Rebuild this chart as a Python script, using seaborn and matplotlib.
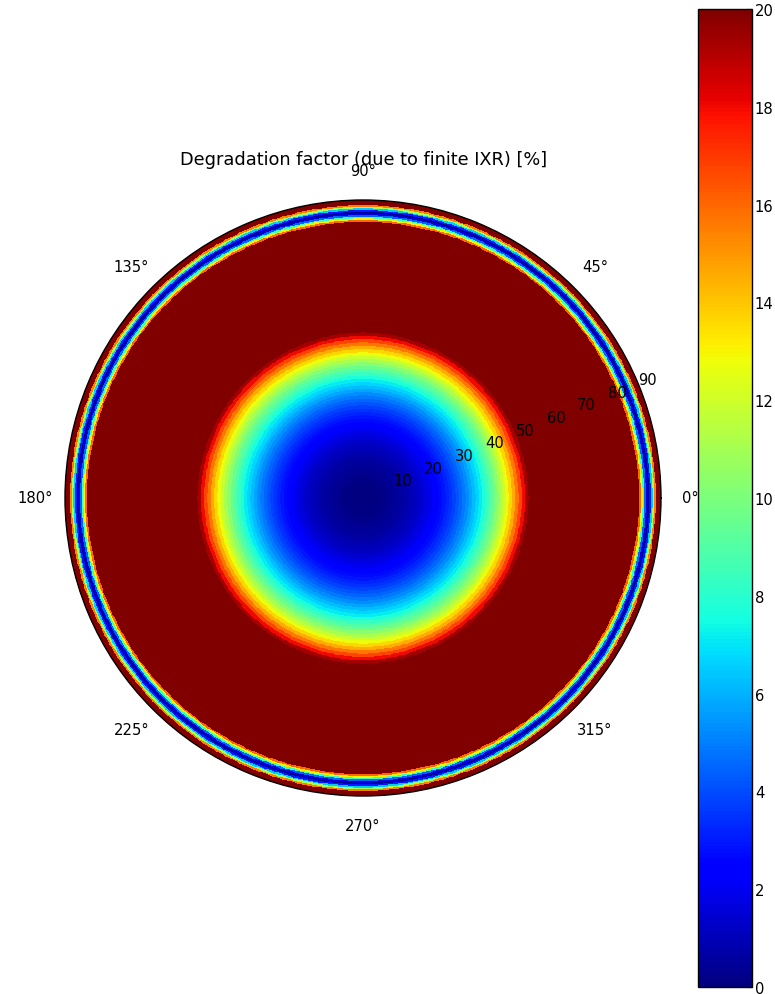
import numpy as np
import matplotlib
matplotlib.use("Agg")
import matplotlib.pyplot as plt
import seaborn as sns

# Radial profile of the degradation factor versus zenith angle (deg).
# Cells are 1 deg wide up to 83 deg, then 0.5 deg wide out to the horizon.
zenith_edges = np.concatenate([np.arange(0.0, 83.0, 1.0), np.arange(83.0, 90.01, 0.5)])

degradation_inner = [
    0.00, 0.01, 0.03, 0.05, 0.09, 0.13, 0.18, 0.25, 0.32, 0.40,
    0.48, 0.58, 0.69, 0.81, 0.94, 1.08, 1.24, 1.40, 1.58, 1.77,
    1.97, 2.19, 2.42, 2.67, 2.93, 3.21, 3.51, 3.82, 4.16, 4.51,
    4.89, 5.30, 5.72, 6.18, 6.66, 7.17, 7.72, 8.30, 8.92, 9.58,
    10.29, 11.04, 11.84, 12.70, 13.62, 14.60, 15.66, 16.79, 18.01, 19.33,
]
# 50..83 deg: saturated at the top of the colour scale
degradation_mid = [20.0] * 33
# 83..90 deg: narrow notch near the horizon
degradation_outer = [20.0, 16.0, 13.0, 8.5, 4.5, 1.5, 0.5, 3.0, 6.5, 11.0, 15.5, 20.0, 20.0, 20.0]

degradation = np.array(degradation_inner + degradation_mid + degradation_outer)

azimuth_labels = ["0°", "45°", "90°", "135°", "180°", "225°", "270°", "315°"]
radial_ticks = [10, 20, 30, 40, 50, 60, 70, 80, 90]
colorbar_ticks = [0, 2, 4, 6, 8, 10, 12, 14, 16, 18, 20]

sns.set_theme(style="white")
plt.rcParams["font.family"] = ["DejaVu Sans"]
plt.rcParams["text.color"] = "black"

cmap = matplotlib.colormaps["jet"]
tick_fs = 10.6

fig = plt.figure(figsize=(7.75, 9.95), dpi=100)
ax = fig.add_axes([65 / 775, 1 - 797 / 995, 596 / 775, 596 / 995], projection="polar")

azimuth_edges = np.linspace(0.0, 2 * np.pi, 361)
T, R = np.meshgrid(azimuth_edges, zenith_edges)
C = np.tile(degradation[:, None], (1, len(azimuth_edges) - 1))
mesh = ax.pcolormesh(T, R, C, cmap=cmap, vmin=0, vmax=20, shading="flat",
                     antialiased=False, rasterized=True)

ax.set_ylim(0, 90)
ax.set_xticks(np.deg2rad(np.arange(0, 360, 45)))
ax.set_yticks(radial_ticks)
ax.set_xticklabels([])
ax.set_yticklabels([])
ax.tick_params(axis="both", length=0, width=0)
ax.grid(True, color="black", linestyle=":", linewidth=0.7)
ax.spines["polar"].set_color("black")
ax.spines["polar"].set_linewidth(1.0)

# azimuth labels just outside the rim
for i, lab in enumerate(azimuth_labels):
    a = np.deg2rad(45 * i)
    ax.text(0.5 + 0.55 * np.cos(a), 0.5 + 0.55 * np.sin(a), lab,
            transform=ax.transAxes, ha="center", va="center",
            fontsize=tick_fs, color="black")

# zenith labels along the 22.5 deg spoke
for r in radial_ticks:
    ax.text(np.deg2rad(22.5), r, str(r), ha="left", va="baseline",
            fontsize=tick_fs, color="black")

fig.text(364 / 775, 1 - 160 / 995, "Degradation factor (due to finite IXR) [%]",
         ha="center", va="center", fontsize=12.75, color="black")

cax = fig.add_axes([698 / 775, 1 - 988 / 995, 54 / 775, 978 / 995])
cbar = fig.colorbar(mesh, cax=cax, ticks=colorbar_ticks)
cbar.outline.set_edgecolor("black")
cbar.outline.set_linewidth(1.0)
cbar.ax.tick_params(direction="in", length=4, width=0.8, color="black", pad=2,
                    labelsize=tick_fs, labelcolor="black", right=True)

fig.savefig("out.png", dpi=100)
